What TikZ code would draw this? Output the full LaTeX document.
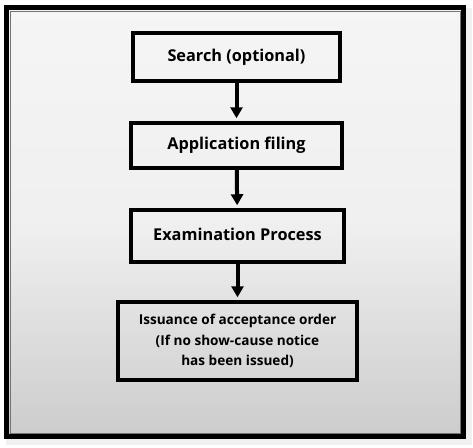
\documentclass[tikz,border=0pt]{standalone}
\usepackage{fontspec}
\setmainfont{Open Sans}
\usetikzlibrary{arrows.meta}

\begin{document}
\begin{tikzpicture}[
            x=1pt,y=-1pt,
            >={Triangle[width=12pt,length=11pt]},
            stepbox/.style={draw,line width=3.5pt,fill=none,align=center,
                font=\bfseries\fontsize{16.3}{19}\selectfont},
            flow/.style={->,line width=4pt,shorten >=3pt}
        ]
        \useasboundingbox (0,0) rectangle (473,447);
        % soft shadow and frame
        \fill[black!12] (8,10) rectangle (470,443);
        \fill[black!6] (6,8) rectangle (472,445);
        \shade[top color=black!4,bottom color=black!20,middle color=black!6]
            (6.5,7.5) rectangle (463.5,436.5);
        \draw[black!55,line width=0.8pt] (10,11) rectangle (460,433);
        \draw[line width=5pt] (6.5,7.5) rectangle (463.5,436.5);
        \node[stepbox,minimum width=207pt,minimum height=48pt] (search) at (236.5,57) {Search (optional)};
        \node[stepbox,minimum width=211pt,minimum height=45pt] (filing) at (236.5,145.5) {Application filing};
        \node[stepbox,minimum width=213pt,minimum height=52pt] (exam) at (237.5,236) {\raisebox{4pt}{Examination Process}};
        \node[stepbox,minimum width=239pt,minimum height=78pt,
            font=\bfseries\fontsize{13.6}{20.5}\selectfont] (order) at (237.5,341)
            {Issuance of acceptance order\\(If no show-cause notice\\has been issued)};
        \draw[flow] (search) -- (filing);
        \draw[flow] (filing) -- (exam);
        \draw[flow] (exam) -- (order);
\end{tikzpicture}
\end{document}
